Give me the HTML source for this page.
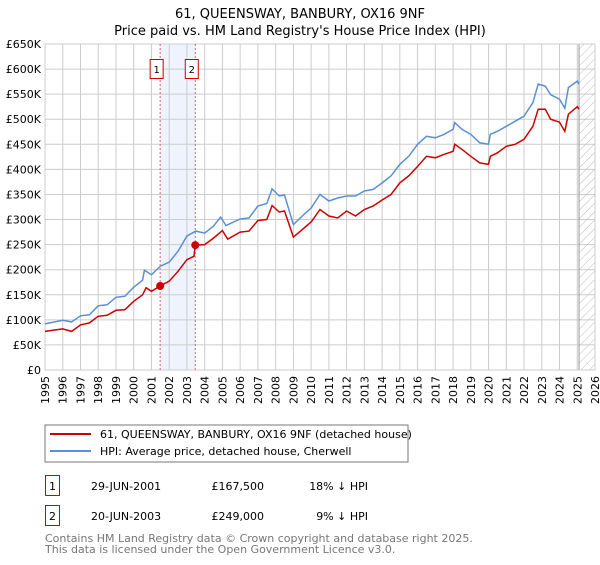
<!DOCTYPE html>
<html><head><meta charset="utf-8"><style>
body{margin:0;background:#fff;font-family:"Liberation Sans","DejaVu Sans",sans-serif}
svg text{font-family:"DejaVu Sans","Liberation Sans",sans-serif}
</style></head><body>
<svg id="c" width="600" height="560" xmlns="http://www.w3.org/2000/svg">
<text x="300" y="18" text-anchor="middle" font-size="13">61, QUEENSWAY, BANBURY, OX16 9NF</text>
<text x="300" y="35" text-anchor="middle" font-size="13">Price paid vs. HM Land Registry's House Price Index (HPI)</text>
<g id="grid"></g><g id="plot"></g>
<rect x="45" y="425" width="363" height="37" fill="#fff" stroke="#777"/>
<line x1="50" y1="434" x2="91" y2="434" stroke="#cc0000" stroke-width="2"/>
<text x="100" y="438" font-size="11">61, QUEENSWAY, BANBURY, OX16 9NF (detached house)</text>
<line x1="50" y1="451" x2="91" y2="451" stroke="#5b8fd4" stroke-width="2"/>
<text x="100" y="455" font-size="11">HPI: Average price, detached house, Cherwell</text>
<g font-size="11">
<rect x="45.5" y="475.5" width="14" height="20" fill="none" stroke="#cc0000"/>
<text x="52.5" y="490" text-anchor="middle">1</text>
<text x="91" y="490">29-JUN-2001</text>
<text x="264" y="490" text-anchor="end">£167,500</text>
<text x="368" y="490" text-anchor="end">18% ↓ HPI</text>
<rect x="45.5" y="505.5" width="14" height="20" fill="none" stroke="#cc0000"/>
<text x="52.5" y="520" text-anchor="middle">2</text>
<text x="91" y="520">20-JUN-2003</text>
<text x="264" y="520" text-anchor="end">£249,000</text>
<text x="368" y="520" text-anchor="end">9% ↓ HPI</text>
</g>
<text x="45" y="542" font-size="11" fill="#777">Contains HM Land Registry data © Crown copyright and database right 2025.</text>
<text x="45" y="553" font-size="11" fill="#777">This data is licensed under the Open Government Licence v3.0.</text>
</svg>
<script>
const hpiYears=[1995,1996,1996.5,1997,1997.5,1998,1998.5,1999,1999.5,2000,2000.5,2000.6,2001,2001.5,2002,2002.5,2003,2003.5,2004,2004.5,2004.9,2005.2,2006,2006.5,2007,2007.5,2007.8,2008.2,2008.5,2009,2009.5,2010,2010.5,2011,2011.5,2012,2012.5,2013,2013.5,2014,2014.5,2015,2015.5,2016,2016.5,2017,2017.5,2018,2018.1,2018.5,2019,2019.5,2020,2020.1,2020.5,2021,2021.5,2022,2022.5,2022.8,2023.2,2023.5,2024,2024.3,2024.5,2025,2025.1];
const hpiValues=[92,99,96,108,110,128,130,145,147,165,179,199,190,207,215,237,267,277,273,287,305,288,301,303,327,332,361,347,349,290,307,323,350,337,343,347,347,357,360,373,387,410,426,450,466,463,470,480,493,480,470,453,450,470,476,486,496,506,533,570,566,549,540,522,563,576,570];
const priceYears=[1995,1996,1996.5,1997,1997.5,1998,1998.5,1999,1999.5,2000,2000.5,2000.7,2001,2001.49,2002,2002.5,2003,2003.4,2003.47,2004,2004.5,2005,2005.3,2006,2006.5,2007,2007.5,2007.8,2008.2,2008.5,2009,2009.5,2010,2010.5,2011,2011.5,2012,2012.5,2013,2013.5,2014,2014.5,2015,2015.5,2016,2016.5,2017,2017.5,2018,2018.1,2018.5,2019,2019.5,2020,2020.1,2020.5,2021,2021.5,2022,2022.5,2022.8,2023.2,2023.5,2024,2024.3,2024.5,2025,2025.1];
const priceValues=[77,82,77,90,94,107,109,119,120,137,150,164,157,167.5,177,197,220,227,249,250,263,278,261,275,277,298,300,328,315,317,265,280,295,320,307,303,317,307,320,327,339,350,373,387,406,426,423,430,436,450,440,426,413,410,426,433,446,450,460,486,520,520,500,494,476,510,525,520];
const saleYears=[2001.49,2003.47];
const saleValues=[167.5,249];
const saleLabels=["1","2"];
const yTicks=[0,50,100,150,200,250,300,350,400,450,500,550,600,650];
const yTickLabels=["£0","£50K","£100K","£150K","£200K","£250K","£300K","£350K","£400K","£450K","£500K","£550K","£600K","£650K"];
const xTicks=[1995,1996,1997,1998,1999,2000,2001,2002,2003,2004,2005,2006,2007,2008,2009,2010,2011,2012,2013,2014,2015,2016,2017,2018,2019,2020,2021,2022,2023,2024,2025,2026];

const NS="http://www.w3.org/2000/svg";
const L=45,R=595,T=44,B=370;
const X=y=>L+(y-1995)/(2026-1995)*(R-L);
const Y=v=>B-v/650*(B-T);
function mk(tag,attrs,parent){const e=document.createElementNS(NS,tag);for(const k in attrs)e.setAttribute(k,attrs[k]);parent.appendChild(e);return e;}
const grid=document.getElementById('grid'),plot=document.getElementById('plot');
let e;
e=mk('rect',{x:X(2001.49),y:T,width:X(2003.47)-X(2001.49),height:B-T,fill:'#eef3fd'},grid);


yTicks.forEach((v,i)=>{
 e=mk('line',{x1:L,x2:R,y1:Y(v),y2:Y(v),stroke:'#cccccc'},grid);
 
 
 e=mk('text',{x:L-4,y:Y(v)+4,'text-anchor':'end','font-size':'11'},grid);
 e.textContent=yTickLabels[i];
 
 
});
xTicks.forEach(y=>{
 e=mk('line',{x1:X(y),x2:X(y),y1:T,y2:B,stroke:'#cccccc'},grid);
 
 
 e=mk('text',{x:0,y:0,'text-anchor':'end','font-size':'11',transform:`translate(${X(y)+4},${B+6}) rotate(-90)`},grid);
 e.textContent=y;
 
 
});
const defs=mk('defs',{},grid);
const pat=mk('pattern',{id:'h',width:6,height:6,patternUnits:'userSpaceOnUse',patternTransform:'rotate(45)'},defs);
mk('line',{x1:0,y1:0,x2:0,y2:6,stroke:'#bbb','stroke-width':1},pat);
e=mk('rect',{x:X(2025.1),y:T,width:R-X(2025.1),height:B-T,fill:'url(#h)',stroke:'#999'},grid);


e=mk('rect',{x:L,y:T,width:R-L,height:B-T,fill:'none',stroke:'#cccccc'},grid);


saleYears.forEach((y,i)=>{
 e=mk('line',{x1:X(y),x2:X(y),y1:T,y2:B,stroke:'#e06060','stroke-dasharray':'2,2'},plot);
 
 
 e=mk('rect',{x:X(y)-10,y:59.5,width:13,height:19,fill:'#fff',stroke:'#cc0000'},plot);
 
 
 e=mk('text',{x:X(y)-3.5,y:73,'text-anchor':'middle','font-size':'10'},plot);
 e.textContent=saleLabels[i];
 
 
});
function line(xs,vs,color,name){
 const d=xs.map((x,i)=>(i?'L':'M')+X(x).toFixed(1)+','+Y(vs[i]).toFixed(1)).join('');
 const p=mk('path',{d:d,fill:'none',stroke:color,'stroke-width':1.5},plot);
 
 
}
line(hpiYears,hpiValues,'#5b8fd4','hpi-line');
line(priceYears,priceValues,'#cc0000','price-paid-line');
saleYears.forEach((y,i)=>{
 e=mk('circle',{cx:X(y),cy:Y(saleValues[i]),r:4,fill:'#cc0000'},plot);
 
 
});
</script>
</body></html>
